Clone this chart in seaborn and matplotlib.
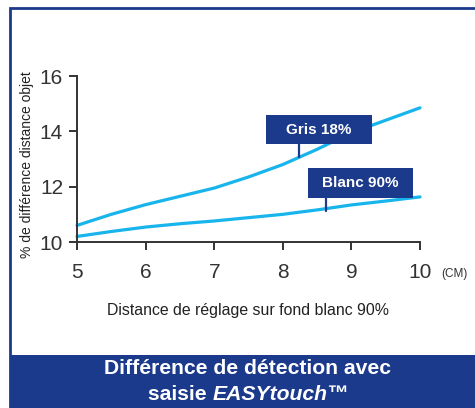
import numpy as np
import pandas as pd
import matplotlib
matplotlib.use("Agg")
import matplotlib.pyplot as plt
from matplotlib.patches import Rectangle
import seaborn as sns

# distances (cm) and % difference
distance = [5, 5.5, 6, 6.5, 7, 7.5, 8, 8.5, 9, 9.5, 10]
gris_18 = [10.6, 11.0, 11.35, 11.65, 11.95, 12.35, 12.8, 13.35, 13.95, 14.4, 14.85]
blanc_90 = [10.2, 10.38, 10.54, 10.66, 10.76, 10.88, 11.0, 11.16, 11.34, 11.48, 11.63]
series_names = ["Gris 18%", "Blanc 90%"]
x_ticks = [5, 6, 7, 8, 9, 10]
y_ticks = [10, 12, 14, 16]

NAVY = "#1c3a8c"
CYAN = "#18b4ec"
GREY = "#333333"

df = pd.DataFrame({
    "distance": distance * 2,
    "diff": gris_18 + blanc_90,
    "serie": [series_names[0]] * len(distance) + [series_names[1]] * len(distance),
})

sns.set_style("ticks")
plt.rcParams["font.family"] = ["Liberation Sans", "DejaVu Sans"]

fig = plt.figure(figsize=(4.75, 4.08), dpi=100)
fig.patch.set_facecolor("white")

# outer frame + bottom banner
fig.add_artist(Rectangle((10 / 475, 0), 1.0, 1 - 8 / 408, transform=fig.transFigure,
                         fill=False, edgecolor=NAVY, linewidth=2))
fig.add_artist(Rectangle((10 / 475, 0), 1.0, 53 / 408, transform=fig.transFigure,
                         facecolor=NAVY, edgecolor="none"))

ax = fig.add_axes([77 / 475, 1 - 242 / 408, 343 / 475, 166 / 408])
sns.lineplot(data=df, x="distance", y="diff", hue="serie",
             palette={series_names[0]: CYAN, series_names[1]: CYAN},
             linewidth=2.3, legend=False, ax=ax, clip_on=False)
ax.set_xlim(5, 10)
ax.set_ylim(10, 16)
ax.set_xticks(x_ticks)
ax.set_yticks(y_ticks)
ax.set_xlabel("")
ax.set_ylabel("")
ax.set_facecolor("none")
sns.despine(ax=ax)
for s in ["left", "bottom"]:
    ax.spines[s].set_color(GREY)
    ax.spines[s].set_linewidth(1.4)
ax.tick_params(axis="both", colors=GREY, labelsize=15, width=1.4, length=6)
ax.tick_params(axis="x", pad=9)
ax.tick_params(axis="y", pad=4)

# label boxes with pointer lines
labels = [
    (series_names[0], (7.75, 13.54), 1.55, 1.05, 8.24, 13.07),
    (series_names[1], (8.37, 11.59), 1.53, 1.08, 8.63, 11.12),
]
for txt, (bx, by), w, h, px, py in labels:
    ax.plot([px, px], [by, py], color=NAVY, linewidth=1.6, zorder=4)
    ax.add_patch(Rectangle((bx, by), w, h, facecolor=NAVY, edgecolor="none", zorder=5))
    ax.text(bx + w / 2, by + h / 2, txt, color="white", fontsize=11, fontweight="bold",
            ha="center", va="center", zorder=6)

fig.text(441 / 475, 1 - 274 / 408, "(CM)", fontsize=8.5, color=GREY, va="center", ha="left")
fig.text(248 / 475, 1 - 311 / 408, "Distance de réglage sur fond blanc 90%",
         fontsize=11.4, color="#222222", ha="center", va="center")
fig.text(27 / 475, 1 - 165 / 408, "% de différence distance objet", fontsize=10,
         color="#222222", rotation=90, ha="center", va="center")

# banner title
fig.text(248 / 475, 1 - 369 / 408, "Différence de détection avec", color="white",
         fontsize=15.2, fontweight="bold", ha="center", va="center")
renderer = fig.canvas.get_renderer()
t1 = fig.text(0, 1 - 394 / 408, "saisie ", color="white", fontsize=15.2,
              fontweight="bold", va="center")
t2 = fig.text(0, 1 - 394 / 408, "EASYtouch™", color="white", fontsize=15.2,
              fontweight="bold", style="italic", va="center")
w1 = t1.get_window_extent(renderer).width / fig.bbox.width
w2 = t2.get_window_extent(renderer).width / fig.bbox.width
x0 = 248 / 475 - (w1 + w2) / 2
t1.set_x(x0)
t2.set_x(x0 + w1)

fig.savefig("out.png", dpi=100)
